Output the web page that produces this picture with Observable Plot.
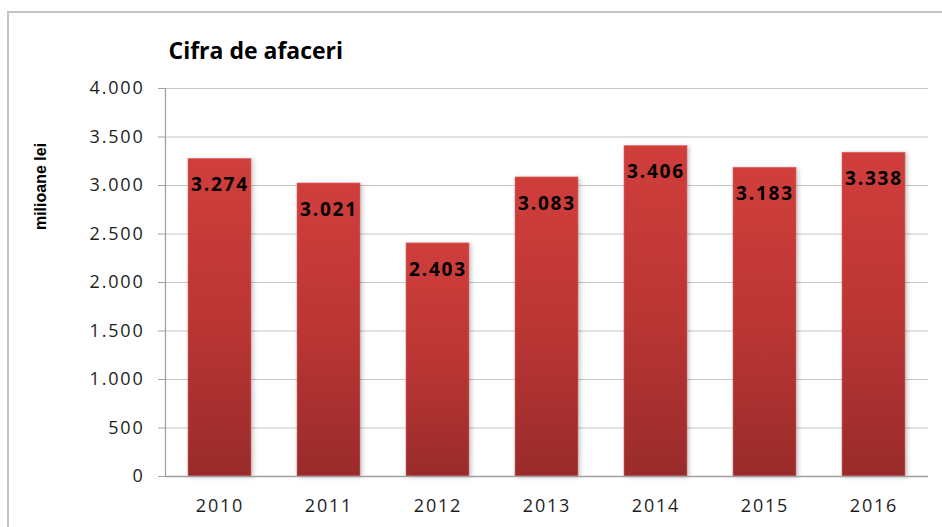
<!DOCTYPE html>
<html><head><meta charset="utf-8">
<script src="https://cdn.jsdelivr.net/npm/d3@7"></script>
<script src="https://cdn.jsdelivr.net/npm/@observablehq/plot@0.6"></script>
<style>
html,body{margin:0;padding:0;background:#fff;overflow:hidden;}
#wrap{position:relative;width:942px;height:527px;overflow:hidden;}
#border{position:absolute;left:7px;top:11px;width:1000px;height:1000px;border:2px solid #c4c4c4;box-sizing:border-box;}
#chart{position:absolute;left:0;top:0;}
#chart svg text{letter-spacing:1.8px;}
#chart svg text.nols{letter-spacing:0;}
</style></head><body>
<div id="wrap"><div id="border"></div><div id="chart"></div></div>
<script>
const years = ["2010", "2011", "2012", "2013", "2014", "2015", "2016"];
const values = [3274, 3021, 2403, 3083, 3406, 3183, 3338];
const yTicks = [0, 500, 1000, 1500, 2000, 2500, 3000, 3500, 4000];
const title = "Cifra de afaceri";
const yLabel = "milioane lei";

const data = years.map((year, i) => ({year, value: values[i]}));
const fmt = d => d3.format(",")(d).replace(/,/g, ".");

const chart = Plot.plot({
  width: 942, height: 527,
  marginLeft: 165, marginRight: 14, marginTop: 88, marginBottom: 51,
  style: {fontFamily: "'Open Sans', sans-serif", fontSize: "18px", color: "#1e1e1e", background: "transparent", overflow: "visible"},
  x: {domain: years, paddingInner: 0.42, paddingOuter: 0.21, label: null, axis: null},
  y: {domain: [0, 4000], label: null, axis: null},
  marks: [
    Plot.gridY(yTicks.filter(d => d > 0), {stroke: "#c6c6c6", strokeOpacity: 1, strokeWidth: 1.2}),
    Plot.barY(data, {x: "year", y: "value", fill: "url(#barGrad)", stroke: "#d86a68", strokeWidth: 0.6}),
    Plot.ruleY([0], {stroke: "#a0a0a0", strokeWidth: 1.5}),
    Plot.frame({anchor: "left", stroke: "#a0a0a0", strokeWidth: 1.2}),
    Plot.axisY(yTicks, {tickFormat: fmt, tickSize: 7, tickPadding: 14, stroke: "#a0a0a0", fill: "#1e1e1e", label: null}),
    Plot.axisX({tickSize: 0, tickPadding: 23, fill: "#1e1e1e", label: null}),
    Plot.text(data, {x: "year", y: "value", text: d => fmt(d.value), dy: 26, fontWeight: "bold", fontSize: 19, fill: "#000"}),
    Plot.text([title], {text: d => d, frameAnchor: "top-left", dx: 3, dy: -30, textAnchor: "start", lineAnchor: "bottom", fontWeight: "bold", fontSize: 23, fill: "#000", className: "title"}),
    Plot.text([yLabel], {text: d => d, frameAnchor: "left", dx: -120, dy: -96, rotate: -90, textAnchor: "middle", lineAnchor: "bottom", fontWeight: "bold", fontSize: 16, fill: "#000", fontFamily: "'Liberation Sans', Arial, sans-serif", className: "ylab"})
  ]
});

const svg = d3.select(chart);
const grad = svg.insert("defs", ":first-child").append("linearGradient")
  .attr("id", "barGrad").attr("x1", 0).attr("y1", 0).attr("x2", 0).attr("y2", 1);
grad.append("stop").attr("offset", "0%").attr("stop-color", "#d03e3c");
grad.append("stop").attr("offset", "50%").attr("stop-color", "#bb3634");
grad.append("stop").attr("offset", "100%").attr("stop-color", "#992b2b");
svg.selectAll("g[aria-label='bar']").style("filter", "drop-shadow(2px 1px 2px rgba(0,0,0,0.22))");
svg.selectAll(".title text, .ylab text").classed("nols", true);
document.getElementById("chart").appendChild(chart);
</script>
</body></html>
